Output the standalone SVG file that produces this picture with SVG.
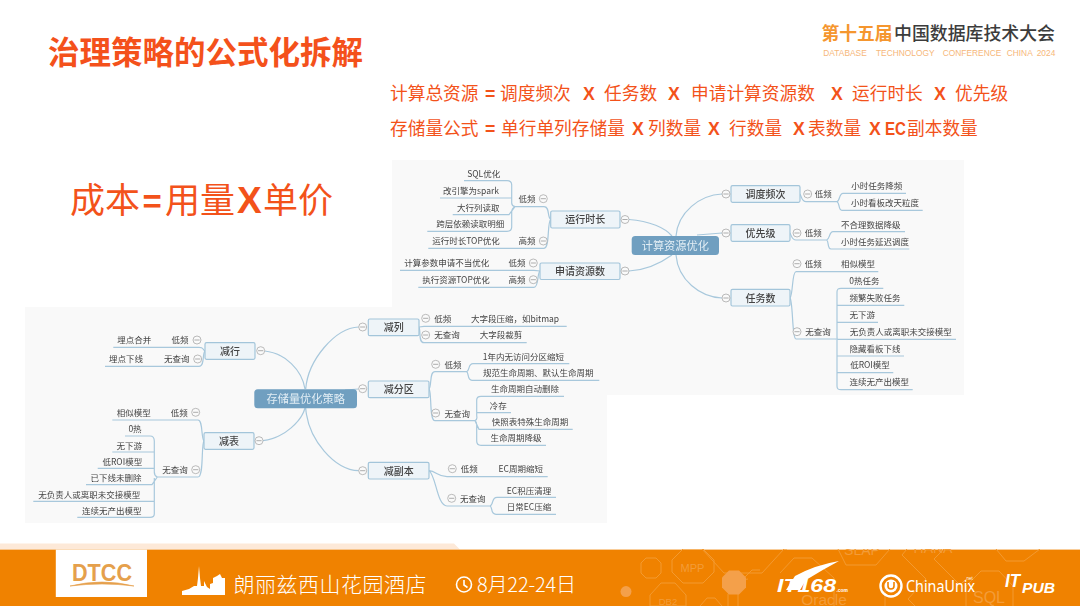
<svg xmlns="http://www.w3.org/2000/svg" width="1080" height="606" viewBox="0 0 1080 606">
<defs>
<style>
.h{font-family:"Noto Sans CJK SC","Liberation Sans",sans-serif}
.f{font-family:"Noto Sans CJK SC","Liberation Sans",sans-serif;font-size:17.7px;fill:#f3521a}
.x{font-family:"Liberation Sans",sans-serif;font-weight:700}
.b{font-family:"Noto Sans CJK SC",sans-serif;font-size:35px;fill:#f3521a}
.t{font-family:"Noto Sans CJK SC","Liberation Sans",sans-serif;font-size:8.5px;fill:#444444;text-anchor:middle;dominant-baseline:central;transform:translateY(-.8px)}
.n{fill:#eef4f8;stroke:#a3c5da;stroke-width:1.2}
.nt{font-family:"Noto Sans CJK SC",sans-serif;font-size:10px;font-weight:500;fill:#444;text-anchor:middle;dominant-baseline:central;transform:translateY(-.6px)}
.r{fill:#6f9fc0}
.rt{font-family:"Noto Sans CJK SC",sans-serif;font-size:11.2px;fill:#e2edf4;text-anchor:middle;dominant-baseline:central;transform:translateY(-.6px)}
.c{fill:none;stroke:#a8c8dc;stroke-width:1.2}
.d{fill:none;stroke:#f39a30;stroke-width:1}
.dt{font-family:"Liberation Sans",sans-serif;fill:#f39c38}
</style>
<g id="m"><circle r="4" fill="#fafafa" stroke="#aaaaaa" stroke-width=".8"/><path d="M-2.6 0H2.6" stroke="#999" stroke-width=".8"/></g>
<filter id="s" x="-2%" y="-2%" width="104%" height="104%"><feGaussianBlur stdDeviation="0.3"/></filter>
<clipPath id="fc"><rect x="0" y="549" width="1080" height="57"/></clipPath>
</defs>
<rect width="1080" height="606" fill="#ffffff"/>

<g id="title"><text class="h" x="48" y="64" font-size="31.5" font-weight="700" fill="#f4511b" textLength="315">治理策略的公式化拆解</text></g>
<g id="conf-logo">
<text class="h" x="821.5" y="40" font-size="17.8" font-weight="700" fill="#f5962e" textLength="71">第十五届</text>
<text class="h" x="894" y="40" font-size="17.9" font-weight="500" fill="#3c3c3c" textLength="161">中国数据库技术大会</text>
<text y="56.3" font-family="Liberation Sans,sans-serif" font-size="8.4" fill="#f6b77a"><tspan x="823.3">DATABASE</tspan><tspan x="876">TECHNOLOGY</tspan><tspan x="942.7">CONFERENCE</tspan><tspan x="1006.7">CHINA</tspan><tspan x="1036.7">2024</tspan></text>
</g>
<g id="formula-1" class="f">
<text x="390" y="100">计算总资源</text><text class="x" x="485" y="100">=</text><text x="500" y="100">调度频次</text><text class="x" x="583" y="100">X</text><text x="604" y="100">任务数</text><text class="x" x="668" y="100">X</text><text x="691" y="100">申请计算资源数</text><text class="x" x="831" y="100">X</text><text x="852" y="100">运行时长</text><text class="x" x="934" y="100">X</text><text x="955" y="100">优先级</text>
</g>
<g id="formula-2" class="f">
<text x="390" y="135">存储量公式</text><text class="x" x="485" y="135">=</text><text x="501" y="135">单行单列存储量</text><text class="x" x="632" y="135">X</text><text x="648" y="135">列数量</text><text class="x" x="708" y="135">X</text><text x="729" y="135">行数量</text><text class="x" x="793" y="135">X</text><text x="808" y="135">表数量</text><text class="x" x="869" y="135">X</text><text class="x" x="885" y="135" textLength="21" lengthAdjust="spacingAndGlyphs">EC</text><text x="907" y="135">副本数量</text>
</g>
<g id="cost" class="b">
<text x="70" y="213">成本</text><text class="x" x="142.5" y="213" font-size="33">=</text><text x="165" y="213">用量</text><text class="x" x="237" y="213" font-size="37">X</text><text x="263" y="213">单价</text>
</g>

<g filter="url(#s)">
<rect id="panel-compute" x="392" y="160" width="572" height="235" fill="#f9f9f9"/>
<rect id="panel-storage" x="25" y="307" width="582" height="216" fill="#f9f9f9"/>

<g id="connectors">
<path class="c" d="M629 219.5C650 221 665 228 672 236M629 271C650 270 665 260 672 255M676 236C678 212 700 195 722 194M697 235L722 233M676 255C678 280 700 297 722 298"/>
<path class="c" d="M800 194C802 198 802 201.7 806 201.7H837M837 201.7C840 201 839 193.3 843 193.3H906M837 201.7C840 203 838 210.3 842 210.3H922.7"/>
<path class="c" d="M790 233C792 237 792 240 796 240H826.7M826.7 240C830 239 829 231.7 833 231.7H905M826.7 240C829 241 827 249 831 249H909.3"/>
<path class="c" d="M790 298C793 295 792 271.7 796 271.7H878.3M790 298C793 301 792 339 796 339H835M835 339C838 339 837 340 837 336V292C837 289 838 288.3 841 288.3H883.3M837.3 305.3H904.3M837.3 322.3H878M837.3 339.3H956M837.3 356H904M837.3 372.7H893.3M837 340V386C837 389 838 389.7 841 389.7H912.7"/>
<path class="c" d="M550.7 219.5C547 217 550 206.7 544 206.7H515M550.7 219.5C547 222 550 248.3 544 248.3H428.3M515 206.7C512 206 511.7 205 511.7 203V185C511.7 182 510 180.7 507 180.7H464M511.7 198H440M515 206.7L509 214.7H452.7M515 206.7C512 208 511.7 210 511.7 212V227C511.7 230 510 231.3 507 231.3H427.3"/>
<path class="c" d="M540 271L534 270.3H400M540 271C537 273 539 287.3 534 287.3H418.3"/>
<path class="c" d="M264.7 351C285 353 302 370 305 389M263 440.7C285 438 302 420 305 408M305.7 389C308 360 335 328 358.7 327M345 390L358.7 389M305.7 408C308 440 335 470 358.7 470.7"/>
<path class="c" d="M419 327L424 326.3H566.7M419 327C421 331 418 342.7 424 342.7H526.7"/>
<path class="c" d="M429 389C432 386 429 371.7 435 371.7H466.7M429 389C432 392 429 420.7 435 420.7H475M466.7 371.7C470 370 468 363.7 473 363.7H569.3M466.7 371.7C469 373 467 380.3 472 380.3H599.3M475 420.7C478 419 476.7 418 476.7 415V400C476.7 397 478 396.3 481 396.3H564M476.7 412.7H511M475 420.7L479 429.3H572.7M475 420.7C477 422 476.7 424 476.7 426V441C476.7 444 478 445.3 481 445.3H546"/>
<path class="c" d="M429 470.7C436 471 438 476.7 447 476.7H547.7M429 470.7C436 475 437 506 447 506H490M490 506C494 505 491 497.3 497 497.3H556M490 506C493 507 490 514.3 496 514.3H556"/>
<path class="c" d="M205 351C202 349 204 347.3 199 347.3H113.3M205 351C202 354 205 366.3 199 366.3H105"/>
<path class="c" d="M204 441C201 438 203 420 198 420H112.3M204 441C201 444 204 477 198 477H157.3M157.3 477C155 476 154.3 474 154.3 472V441C154.3 438 153 436 150 436H125M154.3 452H112.3M154.3 468.3H97.7M157.3 477L152 484.7H86M154.3 478V514C154.3 516 153 517.3 150 517.3H77.3M154.3 501.3H33.3"/>
</g>

<g id="root-compute"><rect class="r" x="631.7" y="236" width="87.3" height="19" rx="3.5"/><text class="rt" x="675.3" y="245.7">计算资源优化</text></g>
<g id="node-runtime"><rect class="n" x="550.7" y="211" width="69.3" height="17" rx="1.5"/><text class="nt" x="585.3" y="219.5">运行时长</text><use href="#m" x="625" y="219.5"/></g>
<g id="node-apply"><rect class="n" x="540" y="263" width="80" height="16.5" rx="1.5"/><text class="nt" x="580" y="271.3">申请资源数</text><use href="#m" x="625" y="271"/></g>
<g id="node-schedule"><rect class="n" x="731" y="185.7" width="69" height="16.6" rx="1.5"/><text class="nt" x="765.5" y="194">调度频次</text><use href="#m" x="726" y="194"/></g>
<g id="node-priority"><rect class="n" x="731" y="224.7" width="59" height="16.6" rx="1.5"/><text class="nt" x="760.5" y="233">优先级</text><use href="#m" x="726" y="233"/></g>
<g id="node-tasks"><rect class="n" x="731" y="289.3" width="59" height="16.7" rx="1.5"/><text class="nt" x="760.5" y="297.7">任务数</text><use href="#m" x="726" y="298"/></g>

<g id="c-labels">
<g id="c1"><use href="#m" x="807.7" y="194"/><text class="t" x="823.3" y="194">低频</text></g>
<g id="c2"><text class="t" x="876.7" y="186">小时任务降频</text></g>
<g id="c3"><text class="t" x="885" y="202.7">小时看板改天粒度</text></g>
<g id="c4"><use href="#m" x="797" y="233"/><text class="t" x="813.3" y="233">低频</text></g>
<g id="c5"><text class="t" x="870.7" y="225">不合理数据降级</text></g>
<g id="c6"><text class="t" x="875" y="242">小时任务延迟调度</text></g>
<g id="c7"><use href="#m" x="797" y="263.7"/><text class="t" x="813.3" y="264">低频</text></g>
<g id="c8"><text class="t" x="858" y="264">相似模型</text></g>
<g id="c9"><use href="#m" x="797" y="331.7"/><text class="t" x="818" y="331.7">无查询</text></g>
<g id="c10"><text class="t" x="864.3" y="280.7">0热任务</text></g>
<g id="c11"><text class="t" x="875" y="297.7">频繁失败任务</text></g>
<g id="c12"><text class="t" x="862.3" y="314.7">无下游</text></g>
<g id="c13"><text class="t" x="900.7" y="331.7">无负责人或离职未交接模型</text></g>
<g id="c14"><text class="t" x="875" y="348.7">隐藏看板下线</text></g>
<g id="c15"><text class="t" x="870" y="365.3">低ROI模型</text></g>
<g id="c16"><text class="t" x="879.3" y="382.3">连续无产出模型</text></g>
<g id="c17"><use href="#m" x="543.3" y="198.7"/><text class="t" x="527" y="198.7">低频</text></g>
<g id="c18"><use href="#m" x="543.3" y="241"/><text class="t" x="527" y="241">高频</text></g>
<g id="c19"><text class="t" x="466" y="241">运行时长TOP优化</text></g>
<g id="c20"><text class="t" x="483.7" y="173.7">SQL优化</text></g>
<g id="c21"><text class="t" x="471" y="190.7">改引擎为spark</text></g>
<g id="c22"><text class="t" x="478.3" y="207.7">大行列读取</text></g>
<g id="c23"><text class="t" x="470.3" y="224.3">跨层依赖读取明细</text></g>
<g id="c24"><use href="#m" x="533.3" y="263"/><text class="t" x="517" y="263.3">低频</text></g>
<g id="c25"><use href="#m" x="533.3" y="279.7"/><text class="t" x="517" y="280">高频</text></g>
<g id="c26"><text class="t" x="446.7" y="263.3">计算参数申请不当优化</text></g>
<g id="c27"><text class="t" x="456" y="280">执行资源TOP优化</text></g>
</g>

<g id="root-storage"><rect class="r" x="254.3" y="389.3" width="102.7" height="19" rx="3.5"/><text class="rt" x="305.7" y="398.7">存储量优化策略</text></g>
<g id="node-row"><rect class="n" x="205" y="342.7" width="50" height="16.6" rx="1.5"/><text class="nt" x="230" y="351">减行</text><use href="#m" x="260.7" y="350.7"/></g>
<g id="node-table"><rect class="n" x="204" y="432.7" width="50" height="16.6" rx="1.5"/><text class="nt" x="229" y="441">减表</text><use href="#m" x="259" y="440.7"/></g>
<g id="node-col"><rect class="n" x="368.3" y="319" width="50.7" height="16.7" rx="1.5"/><text class="nt" x="393.7" y="327.5">减列</text><use href="#m" x="362.7" y="327"/></g>
<g id="node-part"><rect class="n" x="368.3" y="381" width="60.7" height="16.7" rx="1.5"/><text class="nt" x="398.7" y="389.3">减分区</text><use href="#m" x="362.7" y="388.7"/></g>
<g id="node-replica"><rect class="n" x="368.3" y="462.3" width="60.7" height="16.7" rx="1.5"/><text class="nt" x="398.7" y="470.7">减副本</text><use href="#m" x="362.7" y="470.7"/></g>

<g id="s-labels">
<g id="s1"><use href="#m" x="425.7" y="318.3"/><text class="t" x="442.7" y="318.7">低频</text></g>
<g id="s2"><text class="t" x="515" y="319">大字段压缩，如bitmap</text></g>
<g id="s3"><use href="#m" x="425.7" y="335"/><text class="t" x="447" y="335.3">无查询</text></g>
<g id="s4"><text class="t" x="501" y="335.3">大字段裁剪</text></g>
<g id="s5"><use href="#m" x="435.7" y="364.3"/><text class="t" x="453" y="364.7">低频</text></g>
<g id="s6"><text class="t" x="523.3" y="356.7">1年内无访问分区缩短</text></g>
<g id="s7"><text class="t" x="538.3" y="373">规范生命周期、默认生命周期</text></g>
<g id="s8"><use href="#m" x="435.7" y="413"/><text class="t" x="457.3" y="413.7">无查询</text></g>
<g id="s9"><text class="t" x="525" y="389.3">生命周期自动删除</text></g>
<g id="s10"><text class="t" x="498.3" y="405.7">冷存</text></g>
<g id="s11"><text class="t" x="530" y="422">快照表特殊生命周期</text></g>
<g id="s12"><text class="t" x="516" y="438.3">生命周期降级</text></g>
<g id="s13"><use href="#m" x="452.3" y="468.7"/><text class="t" x="469.3" y="469.3">低频</text></g>
<g id="s14"><text class="t" x="520.7" y="469.3">EC周期缩短</text></g>
<g id="s15"><use href="#m" x="451.7" y="498.3"/><text class="t" x="472.7" y="499">无查询</text></g>
<g id="s16"><text class="t" x="529" y="490.7">EC积压清理</text></g>
<g id="s17"><text class="t" x="529" y="507">日常EC压缩</text></g>
<g id="s18"><use href="#m" x="197" y="340"/><text class="t" x="180" y="340">低频</text></g>
<g id="s19"><text class="t" x="134.3" y="340.3">埋点合并</text></g>
<g id="s20"><use href="#m" x="197.7" y="359"/><text class="t" x="176.7" y="359">无查询</text></g>
<g id="s21"><text class="t" x="126" y="359">埋点下线</text></g>
<g id="s22"><use href="#m" x="195.7" y="412.3"/><text class="t" x="179.3" y="412.7">低频</text></g>
<g id="s23"><text class="t" x="133.7" y="412.7">相似模型</text></g>
<g id="s24"><use href="#m" x="195.7" y="469.7"/><text class="t" x="175" y="469.7">无查询</text></g>
<g id="s25"><text class="t" x="135" y="429.3">0热</text></g>
<g id="s26"><text class="t" x="129.3" y="445.7">无下游</text></g>
<g id="s27"><text class="t" x="122.3" y="462">低ROI模型</text></g>
<g id="s28"><text class="t" x="116" y="478.3">已下线未删除</text></g>
<g id="s29"><text class="t" x="89.3" y="494.7">无负责人或离职未交接模型</text></g>
<g id="s30"><text class="t" x="111.7" y="511">连续无产出模型</text></g>
</g>
</g>

<g id="footer">
<path d="M0 543.4H454L460 549.6H0Z" fill="#fde9d8"/>
<rect x="0" y="549.6" width="1080" height="56.4" fill="#f08200"/>
<g clip-path="url(#fc)">
<path class="d" d="M641 563l5-5h10l5 5v10l-5 5h-10l-5-5zM672 560l11-11h20l11 11v12l-11 11h-20l-11-11zM650 595l11-12h14l11 12v11h-36zM700 606l7-8h8l7 8M728 606v-12l14-14 6-1M787 549l-3 0 -22 24h-38l-22-24M738 606v-22l14-14h8M780 573l14-15h18l22 20v28M838 549l8 16h30l14-16M907 549l-5 6 24 24 -18 20 7 7M885 585l0 21M944 549l-10 10 26 26 6 -6M996 549l10 12h18l16-12M966 606v-20l15-15h18l14 15v20"/>
<path d="M721 578l7-7h10l7 7v10l-7 7h-10l-7-7z" fill="#f4a04a" transform="translate(1 -.5)"/>
<circle cx="626" cy="591.6" r="5.5" fill="#f4a04a"/>
<text class="dt" x="692.5" y="572" font-size="11" text-anchor="middle">MPP</text>
<text class="dt" x="668" y="604.5" font-size="9.5" text-anchor="middle">DB2</text>
<text class="dt" x="824" y="604.5" font-size="15.5" text-anchor="middle">Oracle</text>
<text class="dt" x="989" y="603" font-size="16" text-anchor="middle">SQL</text>
<text class="dt" x="862" y="555" font-size="14" text-anchor="middle">SLAP</text>
<text class="dt" x="933" y="553" font-size="14" text-anchor="middle">HANA</text>
</g>
<g id="dtcc-logo">
<rect x="55.8" y="549.6" width="91.2" height="47.4" fill="#ffffff"/>
<text x="72" y="580.5" font-family="Liberation Sans,sans-serif" font-size="23" font-weight="700" fill="#e5a04c" textLength="60" lengthAdjust="spacingAndGlyphs">DTCC</text>
<path d="M70 586Q102 578 134 586Q102 582 70 586Z" fill="#e5a04c" stroke="#e5a04c" stroke-width=".6"/>
</g>
<path id="skyline" d="M182 595V591L189 589L194 586L197 586L198 578L199 566L200 578L201 586L204 586V581L207 587L210 589V584L213 583V578L217 576L220 574L222 578H225V595Z" fill="#ffffff"/>
<text class="h" x="233.5" y="592" font-size="21" font-weight="300" fill="#ffffff" textLength="193">朗丽兹西山花园酒店</text>
<g id="clock" fill="none" stroke="#ffffff" stroke-width="1.6"><circle cx="464" cy="584.5" r="7.5"/><path d="M464 580v5l3.5 2.5"/></g>
<text class="h" x="477" y="592" font-size="20" font-weight="300" fill="#ffffff" textLength="99">8月22-24日</text>
<g id="it168" fill="#ffffff">
<path d="M786 590L795 576Q815 565 839 561Q822 570 806 580L800 590Z"/>
<text x="777" y="591.5" font-family="Liberation Sans,sans-serif" font-size="19" font-weight="700" font-style="italic" textLength="59" lengthAdjust="spacingAndGlyphs">IT168</text>
<text x="836.5" y="591.5" font-family="Liberation Sans,sans-serif" font-size="5" font-weight="700" textLength="11.5" lengthAdjust="spacingAndGlyphs">.com</text>
</g>
<g id="chinaunix">
<circle cx="891" cy="586" r="10.5" fill="none" stroke="#ffffff" stroke-width="2.4"/>
<circle cx="891" cy="586" r="6.5" fill="#ffffff"/>
<path d="M888 582v4a3 3 0 0 0 6 0v-4" fill="none" stroke="#f08200" stroke-width="1.6"/>
<text x="906" y="592" font-family="Noto Sans,sans-serif" font-size="15.5" fill="#ffffff" textLength="69" lengthAdjust="spacingAndGlyphs">ChinaUnix</text>
<text x="966.5" y="579.5" font-family="Liberation Sans,sans-serif" font-size="4.5" fill="#ffffff">net</text>
</g>
<g id="itpub" font-family="Liberation Sans,sans-serif" font-weight="700" font-style="italic" fill="#ffffff">
<text x="1005" y="587" font-size="18" textLength="15" lengthAdjust="spacingAndGlyphs">IT</text>
<text x="1022" y="593" font-size="15" textLength="33" lengthAdjust="spacingAndGlyphs">PUB</text>
</g>
</g>
</svg>
